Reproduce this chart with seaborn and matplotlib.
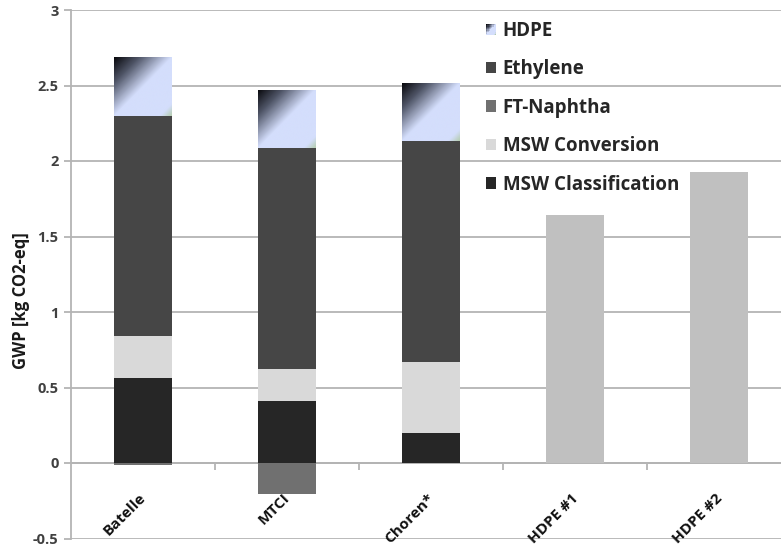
import numpy as np
import pandas as pd
import matplotlib
matplotlib.use("Agg")
import matplotlib.pyplot as plt
import matplotlib.transforms as mtransforms
from matplotlib.patches import Patch, Rectangle
from matplotlib.colors import LinearSegmentedColormap
from matplotlib.legend_handler import HandlerBase
import seaborn as sns

# ---------------- data ----------------
categories = ["Batelle", "MTCI", "Choren*", "HDPE #1", "HDPE #2"]
msw_classification = [0.565, 0.41, 0.20, 0.0, 0.0]
msw_conversion = [0.275, 0.21, 0.47, 0.0, 0.0]
ethylene = [1.46, 1.465, 1.465, 0.0, 0.0]
hdpe = [0.39, 0.385, 0.38, 0.0, 0.0]
ft_naphtha = [-0.015, -0.205, 0.0, 0.0, 0.0]
hdpe_reference = [0.0, 0.0, 0.0, 1.64, 1.93]
legend_labels = ["HDPE", "Ethylene", "FT-Naphtha", "MSW Conversion", "MSW Classification"]
y_label = "GWP [kg CO2-eq]"

# ---------------- style ----------------
c_hdpe = "#d4defc"
c_eth = "#464646"
c_naph = "#707070"
c_conv = "#d9d9d9"
c_class = "#262626"
c_ref = "#c0c0c0"
grid_c = "#b4b4b4"

sns.set_theme(style="white")
plt.rcParams["font.family"] = ["Open Sans", "DejaVu Sans"]

fig = plt.figure(figsize=(7.81, 5.48), dpi=100)
ax = fig.add_axes([71 / 781, 1 - 538.5 / 548, 1 - 71 / 781, (538.5 - 10) / 548])

cls = np.array(msw_classification)
cum_conv = cls + np.array(msw_conversion)
cum_eth = cum_conv + np.array(ethylene)
cum_total = cum_eth + np.array(hdpe)

df = pd.DataFrame({"cat": categories, "total": cum_total, "eth": cum_eth,
                   "conv": cum_conv, "cls": cls, "naph": ft_naphtha,
                   "ref": hdpe_reference})

bw = 0.4
sns.barplot(data=df, x="cat", y="total", color=c_hdpe, saturation=1, width=bw,
            linewidth=0, ax=ax, zorder=1, errorbar=None)
top_patches = list(ax.patches)

# gradient fill on the HDPE segment
cmap = LinearSegmentedColormap.from_list(
    "hdpe", [(0, "#08080c"), (0.22, "#505668"), (0.5, "#d4defc"),
             (0.9, "#d4defc"), (1.0, "#b5cdb0")])
N = 120
u = np.linspace(0, 1, N)
g = (u[None, :] + u[:, None]) / 2
for i, p in enumerate(top_patches):
    if hdpe[i] <= 0:
        continue
    x0 = p.get_x()
    im = ax.imshow(g, cmap=cmap, vmin=0, vmax=1, origin="upper", aspect="auto",
                   extent=(x0, x0 + p.get_width(), cum_eth[i], cum_total[i]),
                   zorder=2, interpolation="bilinear")
    im.set_clip_path(p)

for col, colr, z in [("eth", c_eth, 3), ("conv", c_conv, 4), ("cls", c_class, 5),
                     ("naph", c_naph, 5), ("ref", c_ref, 5)]:
    sns.barplot(data=df, x="cat", y=col, color=colr, saturation=1, width=bw,
                linewidth=0, ax=ax, zorder=z, errorbar=None)

# ---------------- axes ----------------
ax.set_xlim(-0.5, 4.5 - 10 / 144)
ax.set_ylim(-0.5, 3)
ax.set_yticks(np.arange(-0.5, 3.01, 0.5))
ax.yaxis.set_major_formatter(matplotlib.ticker.FormatStrFormatter("%g"))
ax.yaxis.grid(True, color=grid_c, lw=1.3)
ax.set_axisbelow(True)

for s in ["top", "right"]:
    ax.spines[s].set_visible(False)
ax.spines["left"].set_color(grid_c)
ax.spines["left"].set_linewidth(1.3)
ax.spines["bottom"].set_position(("data", 0))
ax.spines["bottom"].set_color(grid_c)
ax.spines["bottom"].set_linewidth(1.3)
ax.spines["bottom"].set_zorder(0.6)

ax.set_xticks([0.5, 1.5, 2.5, 3.5], labels=[])
ax.tick_params(axis="x", which="major", direction="out", length=5, width=1.3,
               color=grid_c, bottom=True)
ax.tick_params(axis="y", direction="out", length=5, width=1.3, color=grid_c,
               left=True, pad=4, labelsize=10.5, labelcolor="#404040")
for t in ax.get_yticklabels():
    t.set_fontweight("bold")
ax.set_xlabel("")
ax.set_ylabel(y_label, fontsize=12, fontweight="bold", color="#1a1a1a")
ax.yaxis.set_label_coords(-0.058, 0.451)

off = mtransforms.ScaledTranslation(-4 / 100, -28 / 100, fig.dpi_scale_trans)
for i, cat in enumerate(categories):
    ax.text(i, 0, cat, transform=ax.transData + off, rotation=45,
            rotation_mode="anchor", ha="right", va="top", fontsize=11,
            fontweight="bold", color="#111111")


# ---------------- legend ----------------
class GradientHandler(HandlerBase):
    def create_artists(self, legend, orig_handle, xdescent, ydescent, width,
                       height, fontsize, trans):
        n = 8
        arts = []
        for r in range(n):
            for c in range(n):
                val = (r + c) / (2 * (n - 1))
                arts.append(Rectangle((-xdescent + c * width / n,
                                       -ydescent + height - (r + 1) * height / n),
                                      width / n, height / n, transform=trans,
                                      facecolor=cmap(val), edgecolor="none",
                                      linewidth=0))
        return arts


handles = [Patch(facecolor=c, edgecolor="none") for c in
           [c_hdpe, c_eth, c_naph, c_conv, c_class]]
leg = ax.legend(handles, legend_labels, loc="upper left",
                bbox_to_anchor=(486 / 781, 1 - 21 / 548), bbox_transform=fig.transFigure,
                frameon=False, prop={"weight": "bold", "size": 13.5},
                handlelength=0.55, handleheight=0.55, handletextpad=0.35,
                labelspacing=0.98, borderaxespad=0, borderpad=0,
                handler_map={handles[0]: GradientHandler()})

fig.savefig("out.png", dpi=100)
